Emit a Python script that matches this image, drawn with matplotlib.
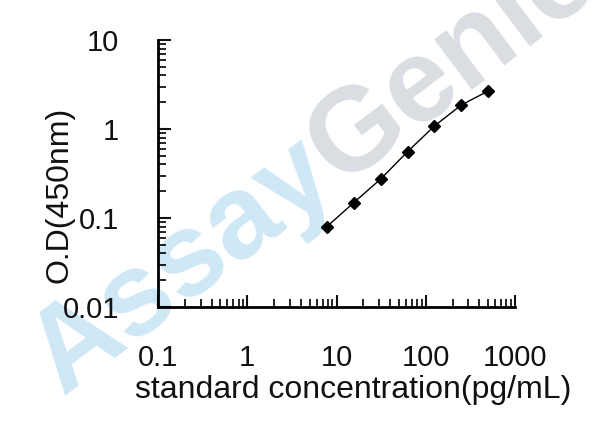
import numpy as np
import matplotlib
matplotlib.use("Agg")
import matplotlib.pyplot as plt
from matplotlib.ticker import LogLocator, FixedLocator, NullFormatter

plt.rcParams['font.family'] = ['Liberation Sans', 'DejaVu Sans']

# standard curve data
conc = [7.81, 15.63, 31.25, 62.5, 125, 250, 500]
od = [0.080, 0.149, 0.274, 0.556, 1.08, 1.86, 2.67]

x_ticks = [0.1, 1, 10, 100, 1000]
x_ticklabels = ["0.1", "1", "10", "100", "1000"]
y_ticks = [0.01, 0.1, 1, 10]
y_ticklabels = ["0.01", "0.1", "1", "10"]

fig = plt.figure(figsize=(6.08, 4.32), dpi=100)

# watermark behind everything
ang = 37.0
fs = 85
em = fs * 100 / 72
start = np.array([62.0, 396.0])  # pixels from top-left
d = np.array([np.cos(np.radians(ang)), -np.sin(np.radians(ang))])
p2 = start + d * em * 2.946
fig.text(start[0] / 608, 1 - start[1] / 432, "Assay", fontsize=fs, fontweight='bold',
         color='#cfe8f6', rotation=ang, rotation_mode='anchor', ha='left', va='baseline', zorder=-1)
fig.text(p2[0] / 608, 1 - p2[1] / 432, "Genie", fontsize=fs, fontweight='bold',
         color='#dadde1', rotation=ang, rotation_mode='anchor', ha='left', va='baseline', zorder=-1)

ax = fig.add_axes([158 / 608, 1 - 307 / 432, 357 / 608, 267 / 432])
ax.patch.set_alpha(0)

ax.plot(conc, od, color='black', lw=1.0, marker='D', ms=6.5, mfc='black', mec='black')

ax.set_xscale('log')
ax.set_yscale('log')
ax.set_xlim(0.1, 1000)
ax.set_ylim(0.01, 10)

ax.xaxis.set_major_locator(FixedLocator(x_ticks))
ax.set_xticklabels(x_ticklabels)
ax.yaxis.set_major_locator(FixedLocator(y_ticks))
ax.set_yticklabels(y_ticklabels)
ax.xaxis.set_minor_locator(LogLocator(base=10, subs=np.arange(2, 10)))
ax.yaxis.set_minor_locator(LogLocator(base=10, subs=np.arange(2, 10)))
ax.xaxis.set_minor_formatter(NullFormatter())
ax.yaxis.set_minor_formatter(NullFormatter())

for s in ['top', 'right']:
    ax.spines[s].set_visible(False)
for s in ['left', 'bottom']:
    ax.spines[s].set_linewidth(2)

ax.tick_params(which='major', direction='in', length=9, width=1.5, labelsize=21, colors='#111111')
ax.tick_params(which='minor', direction='in', length=6, width=1.2)
ax.tick_params(axis='x', which='major', pad=27)
ax.tick_params(axis='y', which='major', pad=28)

ax.set_xlabel("standard concentration(pg/mL)", fontsize=23, color='#111111')
ax.xaxis.set_label_coords(0.546, -0.255)
ax.set_ylabel("O.D(450nm)", fontsize=23, color='#111111')
ax.yaxis.set_label_coords(-0.235, 0.42)

fig.savefig("out.png", dpi=100)
